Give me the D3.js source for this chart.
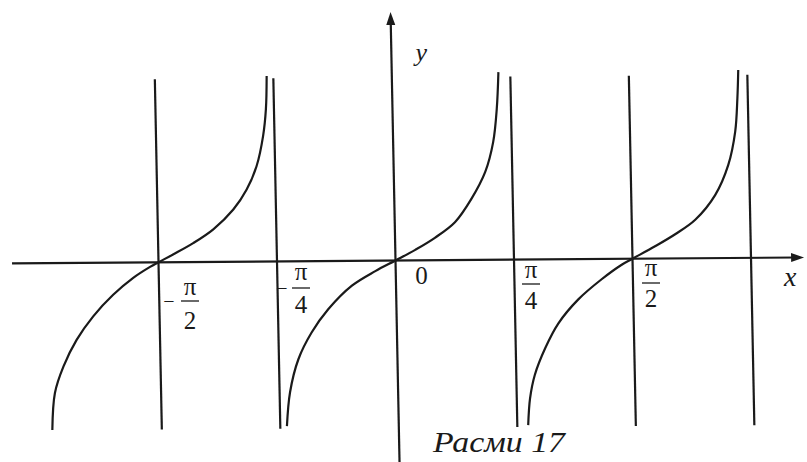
<!DOCTYPE html>
<html>
<head>
<meta charset="utf-8">
<script src="https://cdn.jsdelivr.net/npm/d3@7"></script>
<style>
  html, body { margin: 0; padding: 0; background: #fff; }
  svg { display: block; }
</style>
</head>
<body>
<svg id="chart" width="807" height="462"></svg>
<script>
// x values are in multiples of π, y values in plot units.
const branchLeft = [
  [-0.731, -4.77], [-0.724, -3.71], [-0.705, -2.96], [-0.676, -2.20],
  [-0.640, -1.53], [-0.597, -0.92], [-0.554, -0.44], [-0.518, -0.13],
  [-0.500, 0.00], [-0.469, 0.22], [-0.426, 0.54], [-0.383, 0.93],
  [-0.340, 1.49], [-0.311, 2.06], [-0.289, 2.73], [-0.274, 3.59],
  [-0.267, 4.35], [-0.264, 5.30]
];
const branchMiddle = [
  [-0.236, -4.71], [-0.228, -3.74], [-0.209, -2.80], [-0.180, -2.04],
  [-0.144, -1.38], [-0.093, -0.71], [-0.043, -0.30], [0.000, 0.00],
  [0.042, 0.30], [0.084, 0.64], [0.127, 1.08], [0.163, 1.75],
  [0.193, 2.51], [0.211, 3.36], [0.220, 4.31], [0.225, 5.36]
];
const branchRight = [
  [0.273, -4.73], [0.278, -3.97], [0.289, -3.30], [0.312, -2.54],
  [0.341, -1.83], [0.384, -1.15], [0.434, -0.58], [0.477, -0.17],
  [0.500, 0.00], [0.548, 0.35], [0.591, 0.69], [0.634, 1.10],
  [0.677, 1.80], [0.706, 2.66], [0.722, 3.61], [0.728, 4.56],
  [0.731, 5.37]
];
const verticalLines = [-0.5, -0.25, 0.25, 0.5, 0.75];
const verticalTop = 5.23;
const verticalBottom = -4.78;
const xAxisExtent = [-0.809, 0.862];
const yAxisExtent = [-6.5, 7.1];

const tickLabels = [
  { value: -0.5,  sign: "−", num: "π", den: "2" },
  { value: -0.25, sign: "−", num: "π", den: "4" },
  { value: 0,     sign: "",  num: "0", den: "" },
  { value: 0.25,  sign: "",  num: "π", den: "4" },
  { value: 0.5,   sign: "",  num: "π", den: "2" }
];
const xAxisName = "x";
const yAxisName = "y";
const caption = "Расми 17";

const serif = "Liberation Serif";
const svg = d3.select("#chart");
const ink = "#1a1a1a";

const x = d3.scaleLinear().domain([-0.5, 0.5]).range([158.5, 632.5]);
const y = d3.scaleLinear().domain([-5, 5]).range([435.5, 85.5]);

// the whole drawing sits with a slight shear
const x0 = x(0), y0 = y(0);
const shearX = 0.02, shearY = -0.0075;
const plot = svg.append("g")
  .attr("transform", `matrix(1,${shearY},${shearX},1,${-shearX * y0},${-shearY * x0})`);

// axes
plot.append("line")
  .attr("x1", x(xAxisExtent[0])).attr("x2", x(xAxisExtent[1]) - 8)
  .attr("y1", y(0)).attr("y2", y(0))
  .attr("stroke", ink).attr("stroke-width", 2.2);
plot.append("path")
  .attr("d", `M${x(xAxisExtent[1])},${y(0)} L${x(xAxisExtent[1]) - 13},${y(0) - 4.5} L${x(xAxisExtent[1]) - 13},${y(0) + 4.5} Z`)
  .attr("fill", ink);

plot.append("line")
  .attr("x1", x(0)).attr("x2", x(0))
  .attr("y1", y(yAxisExtent[0])).attr("y2", y(yAxisExtent[1]) + 8)
  .attr("stroke", ink).attr("stroke-width", 2.2);
plot.append("path")
  .attr("d", `M${x(0)},${y(yAxisExtent[1])} L${x(0) - 4.5},${y(yAxisExtent[1]) + 13} L${x(0) + 4.5},${y(yAxisExtent[1]) + 13} Z`)
  .attr("fill", ink);

// vertical lines
plot.selectAll("line.vl").data(verticalLines).join("line")
  .attr("class", "vl")
  .attr("x1", d => x(d)).attr("x2", d => x(d))
  .attr("y1", y(verticalTop)).attr("y2", y(verticalBottom))
  .attr("stroke", ink).attr("stroke-width", 2.2);

// curve branches
const line = d3.line()
  .x(d => x(d[0])).y(d => y(d[1]))
  .curve(d3.curveCatmullRom.alpha(0.5));
plot.selectAll("path.branch").data([branchLeft, branchMiddle, branchRight]).join("path")
  .attr("class", "branch")
  .attr("d", line)
  .attr("fill", "none").attr("stroke", ink).attr("stroke-width", 2.2);

// tick labels (fractions of π)
const labelLayout = {
  "-0.5":  { dx: 31.5, numY: 295, barY: 301, denY: 329, signDx: -21, signY: 308 },
  "-0.25": { dx: 24,   numY: 280, barY: 288, denY: 313, signDx: -19, signY: 295 },
  "0":     { dx: 26,   numY: 284 },
  "0.25":  { dx: 17,   numY: 278, barY: 284, denY: 309 },
  "0.5":   { dx: 18.5, numY: 276, barY: 283, denY: 307 }
};
const txt = (sx, sy, size) => svg.append("text")
  .attr("x", sx).attr("y", sy)
  .attr("font-family", serif).attr("font-size", size).attr("fill", ink);

tickLabels.forEach(t => {
  const L = labelLayout[String(t.value)];
  const cx = x(t.value) + L.dx;
  txt(cx, L.numY, 25).attr("text-anchor", "middle").text(t.num);
  if (t.den) {
    svg.append("line")
      .attr("x1", cx - 9).attr("x2", cx + 9)
      .attr("y1", L.barY).attr("y2", L.barY)
      .attr("stroke", ink).attr("stroke-width", 1.3);
    txt(cx, L.denY, 25).attr("text-anchor", "middle").text(t.den);
  }
  if (t.sign) {
    txt(cx + L.signDx, L.signY, 20).attr("text-anchor", "middle").text(t.sign);
  }
});

// axis names
txt(x(0) + 20, 61, 26).attr("font-style", "italic").text(yAxisName);
txt(x(xAxisExtent[1]) - 20, 286, 28).attr("font-style", "italic").text(xAxisName);

// caption
txt(433, 452, 29).attr("font-style", "italic")
  .attr("textLength", 132).attr("lengthAdjust", "spacingAndGlyphs")
  .text(caption);
</script>
</body>
</html>
